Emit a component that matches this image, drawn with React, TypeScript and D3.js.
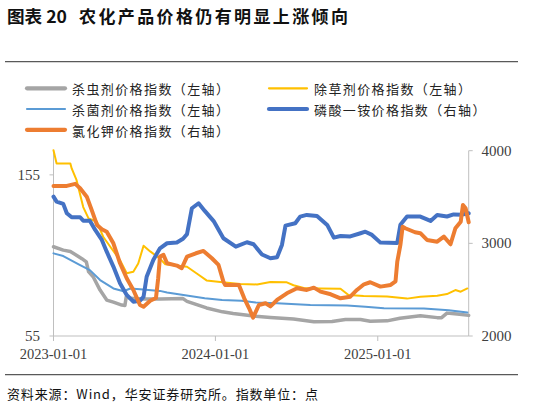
import React from 'react';
import * as d3 from 'd3';

// ---- data ----
const insecticide: [string, number][] = [
  ['2023-01-01', 110.4], ['2023-01-23', 108.3], ['2023-02-08', 107.5], ['2023-03-06', 103],
  ['2023-03-16', 101], ['2023-03-21', 95], ['2023-04-01', 91.5], ['2023-04-16', 83.5],
  ['2023-05-01', 77.3], ['2023-05-16', 76], ['2023-06-04', 74.2], ['2023-06-11', 74],
  ['2023-06-14', 79.4], ['2023-06-23', 78.4], ['2023-07-23', 78], ['2023-08-29', 78],
  ['2023-10-20', 78.2], ['2023-10-29', 76.5], ['2023-12-12', 72.4], ['2024-01-17', 70],
  ['2024-02-10', 69], ['2024-04-01', 67.2], ['2024-05-04', 66.5], ['2024-06-25', 65.5],
  ['2024-08-10', 63.9], ['2024-09-20', 64], ['2024-10-20', 65.3], ['2024-11-23', 65.3],
  ['2024-12-15', 64.2], ['2025-01-22', 64.4], ['2025-02-20', 66], ['2025-04-07', 67.5],
  ['2025-05-15', 66.4], ['2025-05-25', 66.4], ['2025-06-06', 69.2], ['2025-06-29', 68.6],
  ['2025-07-25', 67.8],
];

const herbicide: [string, number][] = [
  ['2023-01-01', 170.3], ['2023-01-08', 162], ['2023-02-08', 162], ['2023-02-11', 159],
  ['2023-02-22', 151.7], ['2023-03-09', 135], ['2023-03-21', 128], ['2023-04-09', 125.9],
  ['2023-04-23', 116.6], ['2023-05-09', 110.4], ['2023-05-31', 102], ['2023-06-15', 93.9],
  ['2023-06-30', 94.9], ['2023-07-11', 100], ['2023-07-23', 111], ['2023-08-07', 107.5],
  ['2023-08-29', 103], ['2023-09-10', 99.5], ['2023-10-29', 98], ['2023-11-24', 93],
  ['2023-12-12', 89.5], ['2024-01-17', 88.3], ['2024-02-26', 87.3], ['2024-04-04', 87],
  ['2024-05-04', 88.5], ['2024-06-10', 88.3], ['2024-06-25', 86.5], ['2024-07-18', 84.8],
  ['2024-08-25', 84.5], ['2024-10-09', 84.3], ['2024-10-27', 80.4], ['2024-11-30', 79.8],
  ['2025-01-22', 79.5], ['2025-03-08', 78.2], ['2025-04-07', 79.4], ['2025-05-15', 80],
  ['2025-06-06', 81], ['2025-06-25', 83.5], ['2025-07-07', 82.5], ['2025-07-22', 84.5],
];

const fungicide: [string, number][] = [
  ['2023-01-01', 106.3], ['2023-01-23', 104.6], ['2023-03-02', 99], ['2023-03-24', 95.9],
  ['2023-04-16', 89.7], ['2023-05-16', 84.5], ['2023-06-08', 82.8], ['2023-06-23', 84.5],
  ['2023-07-15', 84], ['2023-08-29', 83], ['2023-09-14', 82], ['2023-11-01', 80],
  ['2023-12-08', 78.4], ['2024-01-16', 77.3], ['2024-02-29', 76.9], ['2024-04-01', 75.8],
  ['2024-05-19', 75.3], ['2024-08-02', 74.2], ['2024-10-24', 73.9], ['2024-12-04', 73.2],
  ['2025-01-15', 72.2], ['2025-04-15', 72], ['2025-06-10', 71], ['2025-07-22', 69.6],
];

const map: [string, number][] = [
  ['2023-01-01', 3504], ['2023-01-08', 3450], ['2023-01-23', 3426], ['2023-01-31', 3325],
  ['2023-02-11', 3282], ['2023-03-02', 3282], ['2023-03-09', 3245], ['2023-03-24', 3245],
  ['2023-04-05', 3145], ['2023-04-20', 3037], ['2023-05-01', 2910], ['2023-05-16', 2749],
  ['2023-05-31', 2569], ['2023-06-15', 2443], ['2023-06-30', 2370], ['2023-07-15', 2381],
  ['2023-07-23', 2424], ['2023-07-30', 2640], ['2023-08-14', 2821], ['2023-08-29', 2947],
  ['2023-09-14', 3001], ['2023-10-06', 3010], ['2023-10-20', 3050], ['2023-10-29', 3100],
  ['2023-11-09', 3379], ['2023-11-24', 3433], ['2023-12-08', 3350], ['2023-12-28', 3240],
  ['2024-01-19', 3055], ['2024-02-16', 2964], ['2024-03-12', 3012], ['2024-03-27', 2990],
  ['2024-04-15', 2880], ['2024-05-04', 2839], ['2024-05-19', 2850], ['2024-05-30', 2983],
  ['2024-06-07', 3191], ['2024-06-29', 3217], ['2024-07-10', 3289], ['2024-07-25', 3307],
  ['2024-08-17', 3295], ['2024-09-09', 3199], ['2024-09-24', 3062], ['2024-10-09', 3080],
  ['2024-10-31', 3075], ['2024-11-23', 3109], ['2024-12-04', 3126], ['2024-12-19', 3091],
  ['2025-01-07', 3008], ['2025-02-14', 3005], ['2025-02-21', 3200], ['2025-03-08', 3289],
  ['2025-04-07', 3289], ['2025-04-30', 3242], ['2025-05-15', 3305], ['2025-06-06', 3290],
  ['2025-06-21', 3312], ['2025-07-10', 3310], ['2025-07-25', 3325],
];

const potash: [string, number][] = [
  ['2023-01-01', 3620], ['2023-01-31', 3620], ['2023-02-19', 3642], ['2023-03-02', 3595],
  ['2023-03-17', 3504], ['2023-03-28', 3361], ['2023-04-09', 3199], ['2023-04-20', 3152],
  ['2023-05-01', 3126], ['2023-05-16', 3001], ['2023-05-31', 2785], ['2023-06-15', 2623],
  ['2023-06-30', 2497], ['2023-07-15', 2335], ['2023-07-23', 2316], ['2023-08-07', 2381],
  ['2023-08-20', 2410], ['2023-08-25', 2623], ['2023-08-29', 2857], ['2023-09-06', 2875],
  ['2023-09-14', 2785], ['2023-10-06', 2760], ['2023-10-17', 2731], ['2023-10-29', 2857],
  ['2023-11-18', 2893], ['2023-12-05', 2918], ['2023-12-24', 2839], ['2024-01-08', 2767],
  ['2024-01-19', 2587], ['2024-01-23', 2551], ['2024-02-23', 2551], ['2024-03-06', 2407],
  ['2024-03-17', 2299], ['2024-03-26', 2198], ['2024-04-08', 2335], ['2024-04-23', 2353],
  ['2024-05-04', 2320], ['2024-05-19', 2389], ['2024-06-10', 2461], ['2024-07-03', 2515],
  ['2024-07-25', 2497], ['2024-08-10', 2522], ['2024-08-25', 2479], ['2024-09-17', 2450],
  ['2024-10-09', 2407], ['2024-10-31', 2424], ['2024-11-15', 2497], ['2024-12-01', 2558],
  ['2024-12-15', 2580], ['2025-01-07', 2533], ['2025-01-30', 2551], ['2025-02-10', 2590],
  ['2025-02-14', 2802], ['2025-02-21', 2983], ['2025-02-26', 3180], ['2025-03-04', 3163],
  ['2025-03-26', 3120], ['2025-04-07', 3110], ['2025-04-22', 3037], ['2025-05-15', 3018],
  ['2025-05-30', 3072], ['2025-06-14', 2990], ['2025-06-25', 3163], ['2025-07-07', 3234],
  ['2025-07-12', 3415], ['2025-07-18', 3379], ['2025-07-25', 3228],
];

const leftTicks = [55, 155];
const rightTicks = [2000, 3000, 4000];
const dateTicks = ['2023-01-01', '2024-01-01', '2025-01-01'];

const seriesNames = [
  '杀虫剂价格指数（左轴）',
  '除草剂价格指数（左轴）',
  '杀菌剂价格指数（左轴）',
  '磷酸一铵价格指数（右轴）',
  '氯化钾价格指数（右轴）',
];
const seriesColors = ['#A5A5A5', '#FFC000', '#5B9BD5', '#4472C4', '#ED7D31'];
const seriesWidths = [3.5, 2, 2, 4, 4];
const seriesAxis = ['left', 'left', 'left', 'right', 'right'];
const seriesData = [insecticide, herbicide, fungicide, map, potash];

const titleText = '图表 20';
const titleMain = '农化产品价格仍有明显上涨倾向';
const sourceText = '资料来源：Wind，华安证券研究所。指数单位：点';

export default function App() {
  const W = 541, H = 406;
  const x0 = 53.5, x1 = 468.7, yTop = 150.7, yBot = 336;
  const parse = d3.timeParse('%Y-%m-%d');
  const x = d3.scaleTime()
    .domain([parse('2023-01-01') as Date, parse('2025-07-25') as Date])
    .range([x0, x1]);
  const yL = d3.scaleLinear().domain([55, 170]).range([yBot, yTop]);
  const yR = d3.scaleLinear().domain([2000, 4000]).range([yBot, yTop]);

  const cjk = '"Noto Sans CJK SC", sans-serif';
  const serif = '"Liberation Serif", "Times New Roman", serif';
  const axisColor = '#BFBFBF';
  const labelColor = '#404040';

  // legend layout: [col, row]
  const legendPos = [[0, 0], [1, 0], [0, 1], [1, 1], [0, 2]];
  const colX = [27, 269];
  const rowY = [88.3, 109, 129.8];

  return (
    <svg width={W} height={H} style={{ position: 'absolute', left: 0, top: 0, background: '#fff' }}
      xmlns="http://www.w3.org/2000/svg">
      <rect x={0} y={0} width={W} height={H} fill="#fff" />
      {/* title */}
      <text x={7} y={15.5} dominantBaseline="central" fontFamily={cjk} fontWeight={700}
        fontSize={17} fill="#111" textLength={60} lengthAdjust="spacingAndGlyphs">{titleText}</text>
      <text x={79} y={15.5} dominantBaseline="central" fontFamily={cjk} fontWeight={700}
        fontSize={17} fill="#111" textLength={269} lengthAdjust="spacing">{titleMain}</text>
      <line x1={5} x2={518} y1={61.7} y2={61.7} stroke="#595959" strokeWidth={1.3} />

      {/* legend */}
      {seriesNames.map((name, i) => {
        const [c, r] = legendPos[i];
        const lx = colX[c];
        const ly = rowY[r];
        return (
          <g key={name}>
            <line x1={lx} x2={lx + 38} y1={ly} y2={ly} stroke={seriesColors[i]}
              strokeWidth={seriesWidths[i] === 2 ? 2.2 : 4.2} strokeLinecap="round" />
            <text x={lx + 45} y={ly + 0.5} dominantBaseline="central" fontFamily={cjk}
              fontSize={13} fill="#222" letterSpacing={1.4}>{name}</text>
          </g>
        );
      })}

      {/* axes */}
      <line x1={x0} x2={x0} y1={yTop} y2={yBot + 5} stroke={axisColor} strokeWidth={1} />
      <line x1={x1} x2={x1} y1={yTop} y2={yBot} stroke={axisColor} strokeWidth={1} />
      <line x1={x0} x2={x1} y1={yBot} y2={yBot} stroke={axisColor} strokeWidth={1} />
      {leftTicks.map(t => (
        <g key={'l' + t}>
          <line x1={x0 - 4} x2={x0} y1={yL(t)} y2={yL(t)} stroke={axisColor} />
          <text x={40} y={yL(t)} textAnchor="end" dominantBaseline="central" fontFamily={serif}
            fontSize={15} fill={labelColor}>{t}</text>
        </g>
      ))}
      {rightTicks.map(t => (
        <g key={'r' + t}>
          <line x1={x1} x2={x1 + 4} y1={yR(t)} y2={yR(t)} stroke={axisColor} />
          <text x={481.5} y={yR(t)} textAnchor="start" dominantBaseline="central" fontFamily={serif}
            fontSize={15} fill={labelColor}>{t}</text>
        </g>
      ))}
      {dateTicks.map(t => {
        const px = x(parse(t) as Date);
        return (
          <g key={t}>
            <line x1={px} x2={px} y1={yBot} y2={yBot + 5} stroke={axisColor} />
            <text x={px} y={353.5} textAnchor="middle" dominantBaseline="central" fontFamily={serif}
              fontSize={14.5} fill={labelColor}>{t}</text>
          </g>
        );
      })}

      {/* series */}
      {seriesData.map((data, i) => {
        const ys = seriesAxis[i] === 'left' ? yL : yR;
        const line = d3.line<[string, number]>()
          .x(d => x(parse(d[0]) as Date))
          .y(d => ys(d[1]));
        return (
          <path key={seriesNames[i]} d={line(data) || ''} fill="none" stroke={seriesColors[i]}
            strokeWidth={seriesWidths[i]} strokeLinejoin="round" strokeLinecap="round" />
        );
      })}

      {/* source */}
      <line x1={5} x2={518} y1={374.7} y2={374.7} stroke="#595959" strokeWidth={1.3} />
      <text x={7} y={393} dominantBaseline="central" fontFamily={cjk} fontSize={13}
        fill="#111" textLength={311} lengthAdjust="spacing">{sourceText}</text>
    </svg>
  );
}
